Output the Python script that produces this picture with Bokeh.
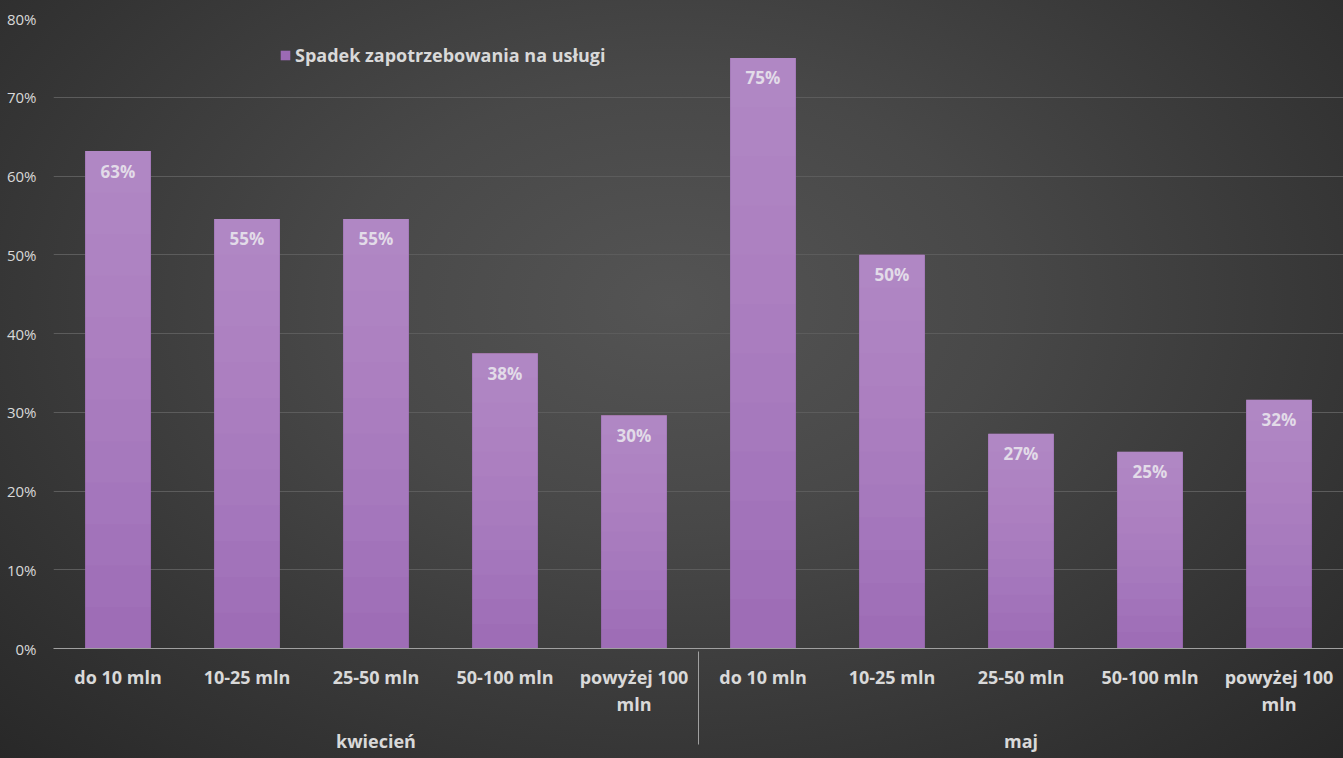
from bokeh.plotting import figure
from bokeh.models import FactorRange, Range1d, FixedTicker, NumeralTickFormatter, Legend, LegendItem, ColumnDataSource
from bokeh.core.properties import value
from bokeh.embed import file_html
from bokeh.resources import INLINE

months = ["kwiecień", "maj"]
sizes = ["do 10 mln", "10-25 mln", "25-50 mln", "50-100 mln", "powyżej 100\nmln"]
kwiecien = [0.6316, 0.5455, 0.5455, 0.375, 0.2963]
maj = [0.75, 0.50, 0.2727, 0.25, 0.3158]
series_name = "Spadek zapotrzebowania na usługi"
y_ticks = [0, 0.1, 0.2, 0.3, 0.4, 0.5, 0.6, 0.7, 0.8]

factors = [(m, s) for m in months for s in sizes]
vals = kwiecien + maj
labels = [f"{round(v*100):d}%" for v in vals]
src = ColumnDataSource(dict(x=factors, top=vals, lab=labels))

FONT = "Open Sans"
TXT = "#d9d9d9"

p = figure(frame_width=1290, frame_height=630, output_backend="svg", toolbar_location=None,
           x_range=FactorRange(*factors, range_padding=0, group_padding=0, factor_padding=0),
           y_range=Range1d(0, 0.8),
           min_border_left=53, min_border_right=0, min_border_top=18, min_border_bottom=110)
p.styles = {"background": "radial-gradient(ellipse farthest-corner at 50% 40%, #545454 0%, #484848 35%, #343434 75%, #282828 100%)"}
p.background_fill_alpha = 0
p.border_fill_alpha = 0
p.outline_line_color = None

base = p.vbar(x="x", top="top", width=0.51, source=src, fill_color="#9c6ab4", line_color=None)
N = 12
for k in range(N):
    frac = k / N
    p.vbar(x=factors, bottom=[v * frac for v in vals], top=vals, width=0.51,
           fill_color="#cdb0e0", fill_alpha=0.06, line_color=None)

p.text(x="x", y="top", text="lab", source=src, text_align="center", text_baseline="middle",
       y_offset=20, text_font=value(FONT), text_font_style="bold", text_font_size="17px",
       text_color="#e2dbe8")

p.yaxis.ticker = FixedTicker(ticks=y_ticks)
p.yaxis.formatter = NumeralTickFormatter(format="0%")
p.yaxis.axis_line_color = None
p.yaxis.major_tick_line_color = None
p.yaxis.minor_tick_line_color = None
p.yaxis.major_label_text_font = FONT
p.yaxis.major_label_text_font_size = "15px"
p.yaxis.major_label_text_color = TXT
p.yaxis.major_label_standoff = 11

p.ygrid.grid_line_color = "#5c5c5c"
p.ygrid.grid_line_width = 1
p.ygrid.ticker = FixedTicker(ticks=y_ticks)
p.xgrid.grid_line_color = None

xa = p.xaxis[0]
xa.axis_line_color = "#a0a0a0"
xa.axis_line_width = 1
xa.major_tick_line_color = None
xa.minor_tick_line_color = None
xa.major_label_standoff = 10
xa.major_label_text_font = FONT
xa.major_label_text_font_size = "18px"
xa.major_label_text_font_style = "bold"
xa.major_label_text_color = TXT
xa.major_label_text_line_height = 1.15
xa.group_text_font = FONT
xa.group_text_font_size = "18px"
xa.group_text_font_style = "bold"
xa.group_text_color = TXT
xa.group_text_line_height = 1.7
xa.separator_line_color = "#a0a0a0"
xa.separator_line_width = 1

legend = Legend(items=[LegendItem(label=series_name, renderers=[base])],
                location=(226, 581), padding=0, margin=0, glyph_width=12, glyph_height=12,
                label_standoff=4, background_fill_alpha=0, border_line_color=None,
                label_text_font=FONT, label_text_font_size="18px", label_text_font_style="bold",
                label_text_color=TXT)
p.add_layout(legend, "center")

open("out.html", "w").write(file_html(p, INLINE))
